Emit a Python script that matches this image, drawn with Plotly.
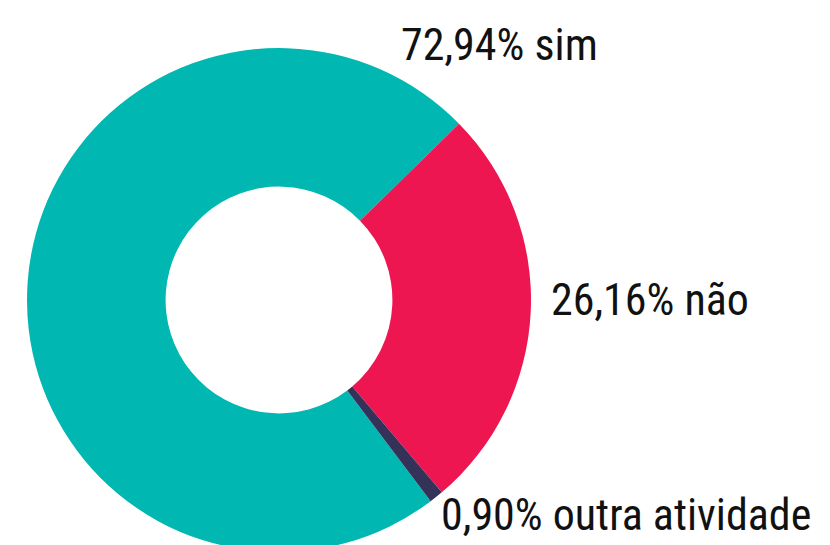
import plotly.graph_objects as go

labels = ["sim", "não", "outra atividade"]
values = [72.94, 26.16, 0.90]
colors = ["#00b7b2", "#ee1651", "#35325a"]

# label placement (paper coords, px from top-left)
label_pos = [(391, 37), (541, 292), (431, 507)]

W, H = 830, 545

fig = go.Figure(go.Pie(
    labels=labels, values=values,
    marker=dict(colors=colors, line=dict(width=0)),
    hole=0.45, sort=False, direction="clockwise", rotation=143,
    textinfo="none", hoverinfo="label+percent",
    domain=dict(x=[19 / W, 523 / W], y=[0, (H - 39) / H]),
))

for lab, val, (px_, py_) in zip(labels, values, label_pos):
    fig.add_annotation(
        x=px_ / W, y=1 - py_ / H, xref="paper", yref="paper",
        xanchor="left", yanchor="middle", showarrow=False,
        text=f"{val:.2f}".replace(".", ",") + "% " + lab,
        font=dict(size=44, color="#111111",
                  family="Roboto Condensed, Liberation Sans Narrow, Roboto"),
    )

fig.update_layout(
    width=W, height=H, showlegend=False,
    margin=dict(l=0, r=0, t=0, b=0),
    paper_bgcolor="white", plot_bgcolor="white",
)

fig.write_html("out.html")
